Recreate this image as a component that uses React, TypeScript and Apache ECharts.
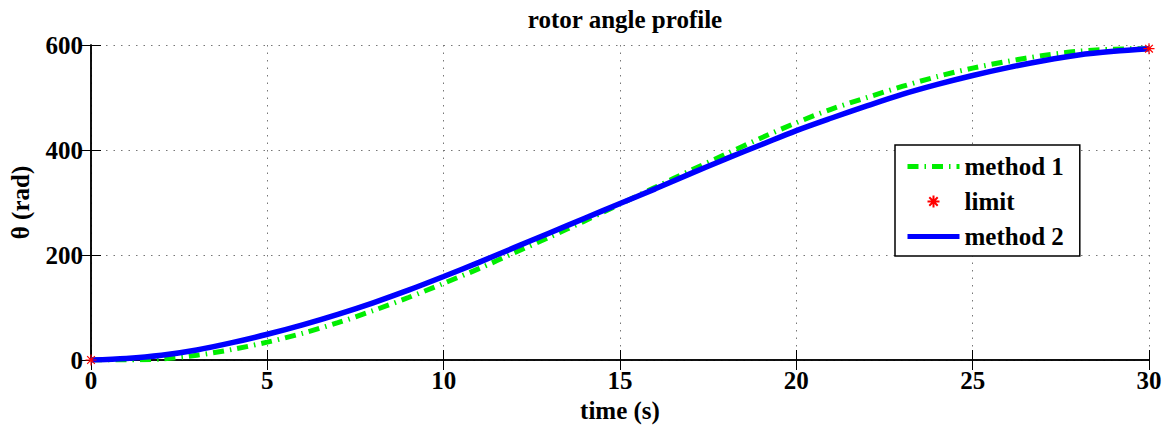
import React, { useEffect, useRef } from "react";
import * as echarts from "echarts";

const times = [0, 1, 2, 3, 4, 5, 6, 7, 8, 9, 10, 11, 12, 13, 14, 15, 16, 17, 18, 19, 20, 21, 22, 23, 24, 25, 26, 27, 28, 29, 30];
const method1 = [0, 0, 2, 9, 20, 34, 51, 71, 94, 119, 146, 174, 204, 234, 265, 297, 329, 361, 392, 423, 452, 478, 500, 521, 540, 556, 569, 580, 588, 592, 593];
const method2 = [0, 3, 9, 19, 33, 49, 67, 87, 109, 133, 159, 186, 214, 242, 270, 298, 326, 355, 383, 410, 437, 461, 484, 506, 525, 542, 557, 570, 581, 588, 593];
const limitTimes = [0, 30];
const limitValues = [0, 593];
const seriesNames = ["method 1", "limit", "method 2"];

const FONT = "'Liberation Serif', 'Times New Roman', serif";
const ASTERISK = "path://M0,-5L0,5M-5,0L5,0M-3.5,-3.5L3.5,3.5M-3.5,3.5L3.5,-3.5";

export default function App() {
  const ref = useRef<HTMLDivElement>(null);
  useEffect(() => {
    if (!ref.current) return;
    const chart = echarts.init(ref.current, null, { renderer: "svg" });
    const pair = (xs: number[], ys: number[]) => xs.map((x, i) => [x, ys[i]]);
    const labelStyle = { fontFamily: FONT, fontWeight: "bold" as const, fontSize: 25, color: "#000" };
    chart.setOption({
      animation: false,
      backgroundColor: "#fff",
      title: {
        text: "rotor angle profile",
        left: 620,
        textAlign: "center",
        top: 2,
        textStyle: { ...labelStyle, fontSize: 25 },
      },
      grid: { left: 90, right: 21, top: 45, bottom: 70, containLabel: false },
      legend: {
        orient: "vertical",
        left: 895,
        top: 145,
        padding: [9, 16, 7, 10],
        itemGap: 10,
        itemWidth: 52,
        itemHeight: 12,
        backgroundColor: "#fff",
        borderColor: "#000",
        borderWidth: 1.5,
        borderRadius: 0,
        lineStyle: { width: 5 },
        textStyle: { ...labelStyle, lineHeight: 25 },
        data: [
          { name: seriesNames[0], itemStyle: { opacity: 0 } },
          { name: seriesNames[1] },
          { name: seriesNames[2], itemStyle: { opacity: 0 } },
        ],
      },
      xAxis: [
        {
          type: "value",
          min: 0,
          max: 30,
          interval: 5,
          name: "time (s)",
          nameLocation: "middle",
          nameGap: 38,
          nameTextStyle: labelStyle,
          axisLine: { show: true, lineStyle: { color: "#000", width: 1.5 } },
          axisTick: { show: true, inside: true, length: 10, lineStyle: { color: "#000" } },
          axisLabel: { ...labelStyle, margin: 8 },
          splitLine: { show: true, lineStyle: { color: "#777", width: 1, type: [1.5, 6] } },
        },
        {
          type: "value",
          position: "top",
          min: 0,
          max: 30,
          interval: 5,
          axisLine: { show: true, lineStyle: { color: "#000", width: 1.5 } },
          axisTick: { show: true, inside: true, length: 10, lineStyle: { color: "#000" } },
          axisLabel: { show: false },
          splitLine: { show: false },
        },
      ],
      yAxis: [
        {
          type: "value",
          min: 0,
          max: 600,
          interval: 200,
          name: "θ (rad)",
          nameLocation: "middle",
          nameGap: 58,
          nameTextStyle: labelStyle,
          axisLine: { show: true, lineStyle: { color: "#000", width: 1.5 } },
          axisTick: { show: true, inside: true, length: 10, lineStyle: { color: "#000" } },
          axisLabel: { ...labelStyle, margin: 8 },
          splitLine: { show: true, lineStyle: { color: "#777", width: 1, type: [1.5, 6] } },
        },
        {
          type: "value",
          position: "right",
          min: 0,
          max: 600,
          interval: 200,
          axisLine: { show: true, lineStyle: { color: "#000", width: 1.5 } },
          axisTick: { show: true, inside: true, length: 10, lineStyle: { color: "#000" } },
          axisLabel: { show: false },
          splitLine: { show: false },
        },
      ],
      series: [
        {
          name: seriesNames[0],
          type: "line",
          data: pair(times, method1),
          showSymbol: false,
          symbol: "none",
          smooth: 0.3,
          lineStyle: { color: "#00ee00", width: 5, type: [11, 6, 1.5, 6] },
          itemStyle: { color: "#00ee00" },
          z: 2,
        },
        {
          name: seriesNames[1],
          type: "scatter",
          data: pair(limitTimes, limitValues),
          symbol: ASTERISK,
          symbolSize: 11,
          itemStyle: { color: "#ff0000", borderColor: "#ff0000", borderWidth: 1.2, opacity: 1 },
          z: 5,
        },
        {
          name: seriesNames[2],
          type: "line",
          data: pair(times, method2),
          showSymbol: false,
          symbol: "none",
          smooth: 0.3,
          lineStyle: { color: "#0000ff", width: 5.5 },
          itemStyle: { color: "#0000ff" },
          z: 3,
        },
      ],
    });
    return () => chart.dispose();
  }, []);
  return (
    <div
      ref={ref}
      style={{ position: "absolute", left: 0, top: 0, width: 1170, height: 430, background: "#fff" }}
    />
  );
}
